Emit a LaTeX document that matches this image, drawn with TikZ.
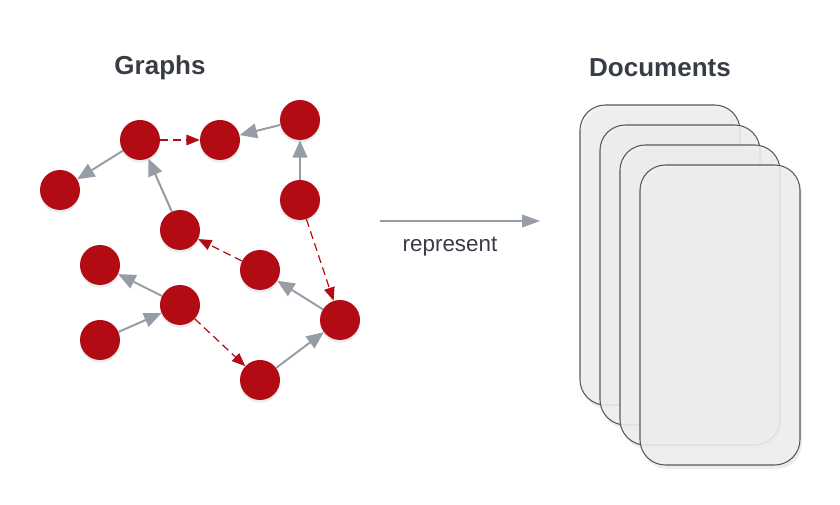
\documentclass[tikz,border=0pt]{standalone}
\usepackage{fontspec}
\setmainfont{Liberation Sans}
\usepackage{tikz}
\usetikzlibrary{arrows.meta,shadows}

\definecolor{dotred}{HTML}{B20B14}
\definecolor{linkgray}{HTML}{979DA6}
\definecolor{titlegray}{HTML}{383D45}
\definecolor{cardgray}{HTML}{EFEFEF}
\definecolor{cardline}{HTML}{555A60}

\tikzset{
  dot/.style={circle,fill=dotred,minimum size=30pt,inner sep=0pt,
    drop shadow={shadow xshift=0pt,shadow yshift=-2pt,opacity=0.15}},
  link/.style={linkgray,line width=1.5pt,-{Triangle[length=13pt,width=11pt]}},
  hint/.style={dotred,line width=0.9pt,dash pattern=on 6pt off 3.5pt,-{Triangle[length=10pt,width=8pt]}},
  card/.style={draw=cardline,line width=0.8pt,fill=cardgray,fill opacity=0.88,
    rounded corners=19pt,minimum width=120pt,minimum height=225pt,
    drop shadow={shadow xshift=1.5pt,shadow yshift=-3pt,opacity=0.15}},
  title/.style={text=titlegray,font=\fontsize{19.5}{23}\selectfont\bfseries}
}

\begin{document}
\begin{tikzpicture}[x=0.75pt,y=-0.75pt]
        \useasboundingbox (0,0) rectangle (840,505);

        % Graphs
        \node[title] (gtitle) at (160,68) {Graphs};
        \node[dot] (a) at (140,140) {};
        \node[dot] (b) at (220,140) {};
        \node[dot] (c) at (300,120) {};
        \node[dot] (d) at (60,190) {};
        \node[dot] (e) at (300,200) {};
        \node[dot] (f) at (180,230) {};
        \node[dot] (g) at (100,265) {};
        \node[dot] (h) at (260,270) {};
        \node[dot] (i) at (180,305) {};
        \node[dot] (j) at (340,320) {};
        \node[dot] (k) at (100,340) {};
        \node[dot] (l) at (260,380) {};

        \draw[link] (c) -- (b);
        \draw[link] (a) -- (d);
        \draw[link] (e) -- (c);
        \draw[link] (f) -- (a);
        \draw[link] (j) -- (h);
        \draw[link] (i) -- (g);
        \draw[link] (k) -- (i);
        \draw[link] (l) -- (j);

        \draw[hint] (a) -- (b);
        \draw[hint] (e) -- (j);
        \draw[hint] (h) -- (f);
        \draw[hint] (i) -- (l);

        % represent
        \coordinate (from) at (380,221);
        \coordinate (to) at (540,221);
        \draw[linkgray,line width=1.5pt,-{Triangle[length=13.5pt,width=9.5pt]}] (from) -- (to);
        \node[text=titlegray,font=\fontsize{16.8}{20}\selectfont] (rep) at (450,247) {represent};

        % Documents
        \node[title] (dtitle) at (660,68) {Documents};
        \foreach \n in {0,1,2,3}
          \node[card] (doc\n) at (660+20*\n,255+20*\n) {};
\end{tikzpicture}
\end{document}
